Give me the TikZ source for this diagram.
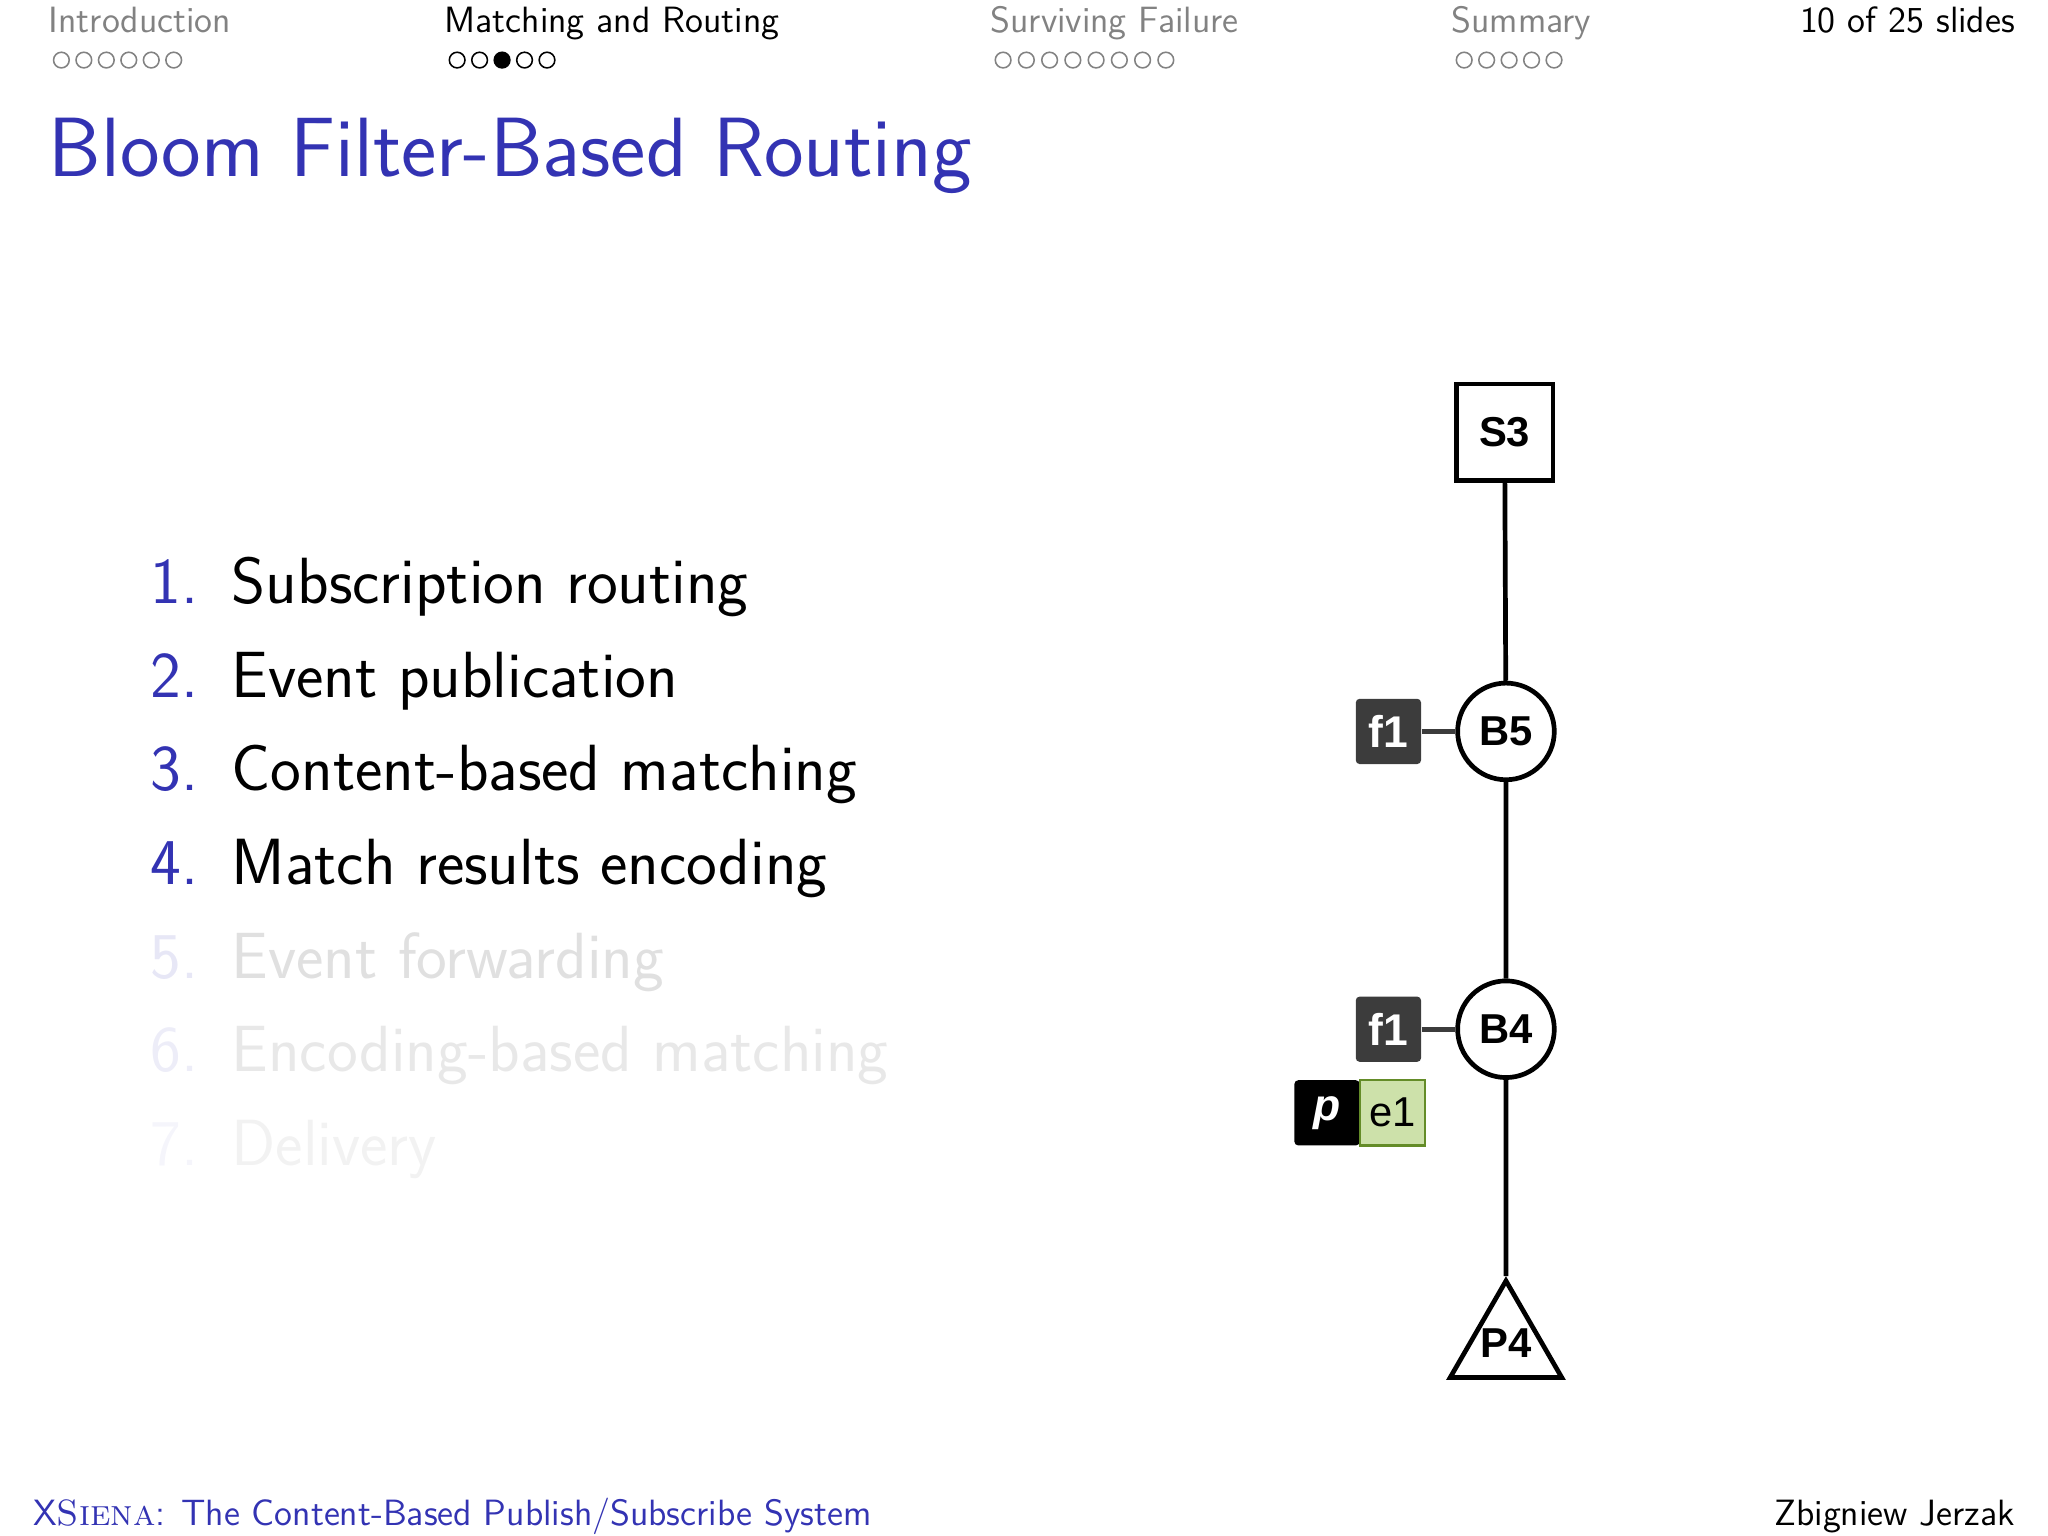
\documentclass[tikz,border=0pt]{standalone}
\usepackage{fontspec}
\newfontfamily\hel{Liberation Sans}
\usetikzlibrary{shapes.geometric}
\definecolor{bb}{RGB}{51,51,179}
\definecolor{hg}{RGB}{130,130,130}
\definecolor{fg}{RGB}{60,60,60}
\definecolor{eg}{RGB}{205,225,170}
\definecolor{eb}{RGB}{100,140,40}
\begin{document}
\begin{tikzpicture}[x=0.5pt,y=-0.5pt,
  hd/.style={anchor=base west,font=\sffamily\fontsize{14}{16}\selectfont,text=hg,inner sep=0},
  dot/.style={circle,draw=hg,line width=0.6pt,minimum size=6pt,inner sep=0},
  it/.style={anchor=base west,font=\sffamily\fontsize{25}{28}\selectfont,inner sep=0},
  nd/.style={draw,line width=1.8pt,font=\hel\bfseries\fontsize{16}{18}\selectfont,inner sep=0},
  fbox/.style={fill=fg,rounded corners=1.5pt,minimum size=25pt,inner sep=0,text=white,font=\hel\bfseries\fontsize{17}{19}\selectfont}]
\useasboundingbox (0,0) rectangle (1568,1176);
\node[hd] at (37,25) {Introduction};
\node[hd,text=black] at (340,25) {Matching and Routing};
\node[hd] at (758,25) {Surviving Failure};
\node[hd] at (1111,25) {Summary};
\node[hd,text=black,anchor=base east] at (1543,25) {10 of 25 slides};
\foreach \i in {0,...,5} \node[dot] at (47+\i*17.2,46) {};
\foreach \i/\f in {0/white,1/white,2/black,3/white,4/white} \node[dot,draw=black,fill=\f] at (350+\i*17.2,46) {};
\foreach \i in {0,...,7} \node[dot] at (768+\i*17.8,46) {};
\foreach \i in {0,...,4} \node[dot] at (1121+\i*17.2,46) {};
\node[anchor=base west,inner sep=0,text=bb,font=\sffamily\fontsize{32.2}{36}\selectfont] at (37,135) {Bloom Filter-Based Routing};
\foreach \y/\t/\c/\nc/\n in {462/Subscription routing/black/bb/1,534/Event publication/black/bb/2,605/Content-based matching/black/bb/3,677/Match results encoding/black/bb/4,749/Event forwarding/black!12/bb!12/5,820/Encoding-based matching/black!9/bb!9/6,892/Delivery/black!5/bb!5/7}{
  \node[it,text=\nc] at (115,\y) {\n.};
  \node[it,text=\c] at (177,\y) {\t};}
\node[nd,minimum size=37pt] (s3) at (1152,331) {S3};
\node[nd,circle,minimum size=37pt] (b5) at (1153,560) {B5};
\node[nd,circle,minimum size=37pt] (b4) at (1153,788) {B4};
\node[nd,isosceles triangle,shape border rotate=90,isosceles triangle apex angle=60,minimum height=37pt,inner sep=0] (p4) at (1153,1030) {};
\node[font=\hel\bfseries\fontsize{16}{18}\selectfont] at (1153,1028) {P4};
\node[fbox] (f1a) at (1063,560) {f1};
\node[fbox] (f1b) at (1063,788) {f1};
\node[fill=black,rounded corners=1.5pt,minimum size=25pt,inner sep=0,text=white,font=\hel\bfseries\itshape\fontsize{17}{19}\selectfont] (p) at (1016,852) {p};
\node[fill=eg,draw=eb,line width=0.8pt,minimum size=25pt,inner sep=0,font=\hel\fontsize{16}{18}\selectfont] (e1) at (1066,852) {e1};
\draw[line width=1.8pt] (s3) -- (b5) -- (b4) -- (p4.apex);
\draw[line width=1.8pt,fg] (f1a) -- (b5);
\draw[line width=1.8pt,fg] (f1b) -- (b4);
\node[anchor=base west,inner sep=0,text=bb,font=\sffamily\fontsize{14}{16}\selectfont] at (25,1168) {X\textsc{Siena}: The Content-Based Publish/Subscribe System};
\node[anchor=base east,inner sep=0,font=\sffamily\fontsize{14}{16}\selectfont] at (1543,1168) {Zbigniew Jerzak};
\end{tikzpicture}
\end{document}
